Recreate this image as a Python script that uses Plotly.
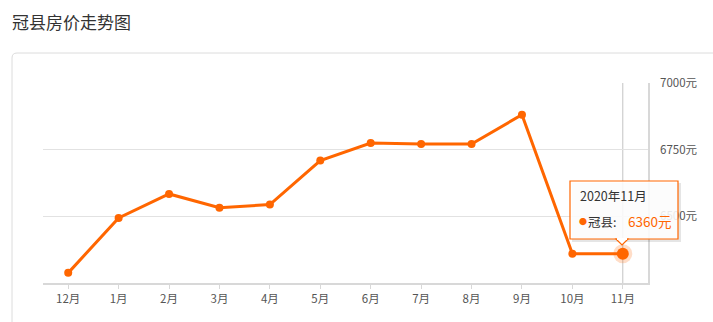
import plotly.graph_objects as go

# ---- data ----
months = ["12月", "1月", "2月", "3月", "4月", "5月", "6月", "7月", "8月", "9月", "10月", "11月"]
prices = [6288, 6494, 6584, 6532, 6544, 6709, 6775, 6771, 6771, 6881, 6360, 6360]
y_ticks = [6500, 6750, 7000]
y_tick_text = [f"{v}元" for v in y_ticks]
y_range = [6250, 7000]
chart_title = "冠县房价走势图"
series_name = "冠县"
tooltip_title = "2020年11月"
highlight_index = 11

# ---- layout helpers (pixel -> paper) ----
W, H = 713, 322
L, R, T, B = 43, 65, 83, 39
PW, PH = W - L - R, H - T - B


def px(x):
    return (x - L) / PW


def py(y):
    return (H - B - y) / PH


ORANGE = "#ff6600"
FONT = "Noto Sans CJK SC"

fig = go.Figure()
fig.add_trace(go.Scatter(
    x=months, y=prices, mode="lines+markers", name=series_name,
    line=dict(color=ORANGE, width=3),
    marker=dict(color=ORANGE, size=8),
    hoverinfo="skip",
))
fig.add_trace(go.Scatter(
    x=[months[highlight_index]], y=[prices[highlight_index]], mode="markers",
    marker=dict(color="rgba(255,102,0,0.22)", size=19), hoverinfo="skip", showlegend=False,
))
fig.add_trace(go.Scatter(
    x=[months[highlight_index]], y=[prices[highlight_index]], mode="markers",
    marker=dict(color=ORANGE, size=12), hoverinfo="skip", showlegend=False,
))

# container with rounded top-left corner
r = 5
x0, y0, x1, y1 = 12, 53, 730, 340
path = (f"M {px(x0)},{py(y1)} L {px(x0)},{py(y0 + r)} "
        f"Q {px(x0)},{py(y0)} {px(x0 + r)},{py(y0)} L {px(x1)},{py(y0)}")
shapes = [
    dict(type="path", path=path, xref="paper", yref="paper",
         line=dict(color="#dcdcdc", width=1), layer="below"),
    # axis pointer
    dict(type="line", xref="x", yref="paper", x0=highlight_index, x1=highlight_index,
         y0=0, y1=1, line=dict(color="#c4c4c4", width=1), layer="below"),
]

# tooltip
tx0, ty0, tx1, ty1 = 570, 181, 678, 239
shapes += [
    dict(type="rect", xref="paper", yref="paper",
         x0=px(tx0 + 2), x1=px(tx1 + 3), y0=py(ty1 + 3), y1=py(ty0 + 2),
         fillcolor="rgba(0,0,0,0.10)", line=dict(width=0), layer="above"),
    dict(type="rect", xref="paper", yref="paper",
         x0=px(tx0), x1=px(tx1), y0=py(ty1), y1=py(ty0),
         fillcolor="rgba(255,255,255,0.88)", line=dict(color=ORANGE, width=1.2), layer="above"),
    dict(type="path", xref="paper", yref="paper",
         path=f"M {px(616)},{py(ty1)} L {px(622)},{py(245)} L {px(628)},{py(ty1)} Z",
         fillcolor="white", line=dict(color=ORANGE, width=1.2), layer="above"),
    dict(type="line", xref="paper", yref="paper",
         x0=px(617), x1=px(627), y0=py(ty1), y1=py(ty1),
         line=dict(color="white", width=2), layer="above"),
]

annotations = [
    dict(text=tooltip_title, xref="paper", yref="paper", x=px(578), y=py(195),
         xanchor="left", yanchor="middle", showarrow=False,
         font=dict(family=FONT, size=12.5, color="#333")),
    dict(text="●", xref="paper", yref="paper", x=px(576.5), y=py(221),
         xanchor="left", yanchor="middle", showarrow=False,
         font=dict(family=FONT, size=8, color=ORANGE)),
    dict(text=f"{series_name}:", xref="paper", yref="paper", x=px(586), y=py(221),
         xanchor="left", yanchor="middle", showarrow=False,
         font=dict(family=FONT, size=12.5, color="#333")),
    dict(text=f"{prices[highlight_index]}元", xref="paper", yref="paper", x=px(626), y=py(221),
         xanchor="left", yanchor="middle", showarrow=False,
         font=dict(family=FONT, size=13.5, color=ORANGE)),
]

fig.update_layout(
    width=W, height=H,
    margin=dict(l=L, r=R, t=T, b=B, pad=0),
    paper_bgcolor="white", plot_bgcolor="white",
    showlegend=False, hovermode=False,
    title=dict(text=chart_title, xref="container", yref="container",
               x=12 / W, y=1 - 23 / H, xanchor="left", yanchor="middle",
               font=dict(family=FONT, size=17, color="#333")),
    shapes=shapes, annotations=annotations,
    font=dict(family=FONT),
)
fig.update_xaxes(
    type="category", categoryorder="array", categoryarray=months,
    range=[-0.5, len(months) - 0.5],
    showgrid=False, zeroline=False,
    showline=True, linecolor="#d8d8d8", linewidth=2,
    ticks="outside", ticklen=4, tickcolor="#d8d8d8", tickwidth=1,
    tickfont=dict(family=FONT, size=11.5, color="#555"),
    fixedrange=True,
)
fig.update_yaxes(
    side="right", range=y_range, tickvals=y_ticks, ticktext=y_tick_text,
    showgrid=True, gridcolor="#e2e2e2", gridwidth=1, zeroline=False,
    showline=True, linecolor="#d8d8d8", linewidth=1.5,
    ticks="", ticklabelstandoff=8,
    tickfont=dict(family=FONT, size=11.5, color="#555"),
    fixedrange=True,
)

fig.write_html("out.html", config={"displayModeBar": False})
